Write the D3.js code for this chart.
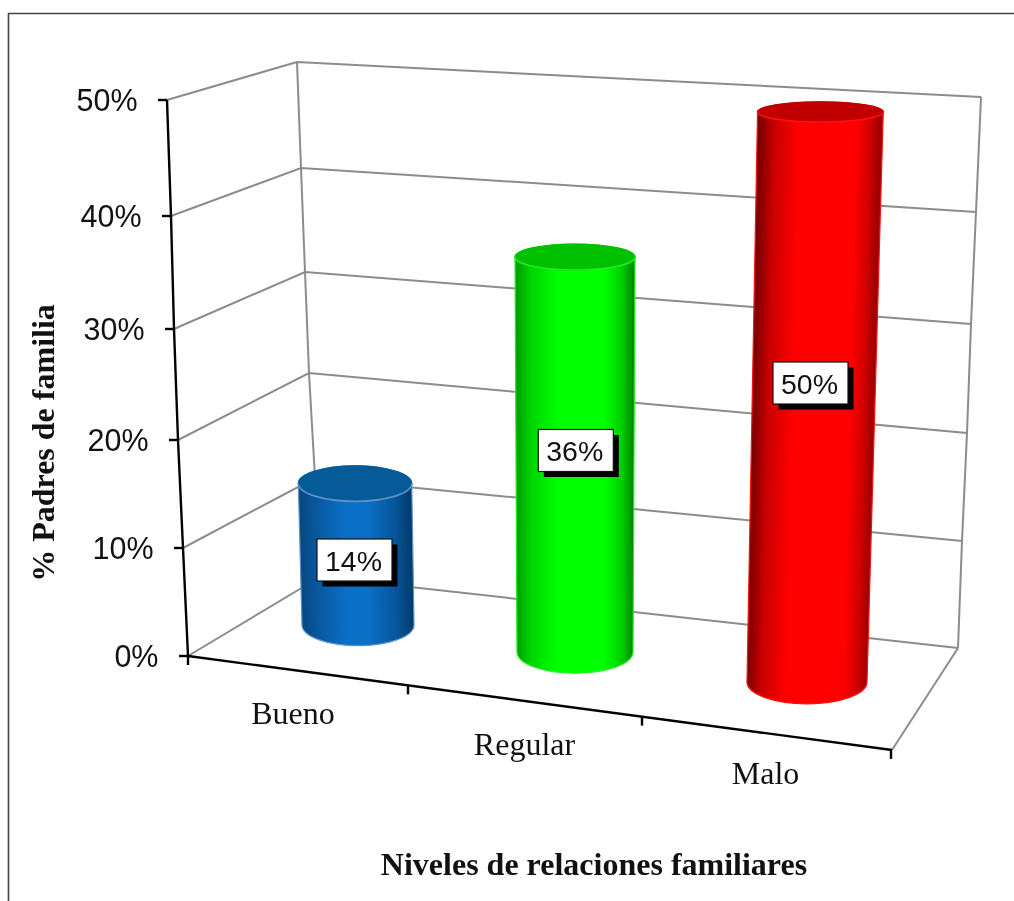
<!DOCTYPE html>
<html><head><meta charset="utf-8">
<script src="https://cdn.jsdelivr.net/npm/d3@7"></script>
<style>html,body{margin:0;background:#fff}svg{display:block;filter:blur(0.45px)}</style></head>
<body><div id="c"></div>
<script>
const categories = ["Bueno","Regular","Malo"];
const values = [14,36,50];
const tickValues = [0,10,20,30,40,50];
const barColors = [
  {stops:[[0,"#07477f"],[.12,"#08559a"],[.4,"#0a6fc6"],[.6,"#0a6fc6"],[.85,"#06559a"],[1,"#033a68"]],lid:"#055a98",rim:"#5c92cc"},
  {stops:[[0,"#00a000"],[.12,"#00d400"],[.35,"#00ff00"],[.75,"#00ff00"],[.9,"#00d000"],[1,"#008a00"]],lid:"#00c000",rim:"#20f020"},
  {stops:[[0,"#7a0000"],[.12,"#c80000"],[.33,"#ff0000"],[.8,"#ff0000"],[.92,"#d00000"],[1,"#9a0000"]],lid:"#c00000",rim:"#ff1010"}
];
const W=1014,H=901;
const svg=d3.select("#c").append("svg").attr("width",W).attr("height",H);
const defs=svg.append("defs");

// perspective scales: value -> pixel along each vertical edge of the box
const frontX=d3.scaleLinear().domain(tickValues).range([188,183,178,174,171,167]);
const frontY=d3.scaleLinear().domain(tickValues).range([656,548,440,329,216,100]);
const backLX=d3.scaleLinear().domain(tickValues).range([320,315,309,305,301,297]);
const backLY=d3.scaleLinear().domain(tickValues).range([577,478,373,272,168,62]);
const backRX=d3.scaleLinear().domain(tickValues).range([958,962,967,971,976,981]);
const backRY=d3.scaleLinear().domain(tickValues).range([648,541,433,324,212,97]);
// floor front edge
const floorX=d3.scaleLinear().domain([0,1,2,3]).range([188,408,642,891]);
const floorY=d3.scaleLinear().domain([188,892]).range([656,750]);
// bar placement per category index
const barBaseX=d3.scaleLinear().domain([0,1,2]).range([358,575,807]);
const barBaseY=d3.scaleLinear().domain([0,1,2]).range([625,652,682]);
const barUnit=d3.scaleLinear().domain([0,1,2]).range([10.1,10.97,11.4]);
const barLean=d3.scaleLinear().domain([0,1,2]).range([-0.021,0,0.0235]);
const barHalf=d3.scaleLinear().domain([0,1,2]).range([56,58,60]);
const ryScale=d3.scaleLinear().domain([100,700]).range([9.8,22.2]);
const labelX=d3.scaleLinear().domain([0,1,2]).range([354.5,575.8,810.5]);
const labelY=d3.scaleLinear().domain([0,1,2]).range([560,450.5,383]);
const catX=d3.scaleLinear().domain([0,1,2]).range([293,524.5,765.5]);
const catY=d3.scaleLinear().domain([0,1,2]).range([724,755,784]);

// frame (right side runs off the picture)
svg.append("path").attr("d",`M${W},13.5H8.5V${H}`).attr("fill","none").attr("stroke","#444").attr("stroke-width",1.6);

// walls
const grid=svg.append("g").attr("fill","none").attr("stroke","#8c8c8c").attr("stroke-width",2);
tickValues.forEach(v=>{
  grid.append("path").attr("d",d3.line()([[frontX(v),frontY(v)],[backLX(v),backLY(v)],[backRX(v),backRY(v)]]));
});
grid.append("path").attr("d",d3.line()(tickValues.map(v=>[backLX(v),backLY(v)])));
grid.append("path").attr("d",d3.line()(tickValues.map(v=>[backRX(v),backRY(v)])));
grid.append("path").attr("d",d3.line()([[backRX(0),backRY(0)],[892,750]]));

// axes
const ax=svg.append("g").attr("fill","none").attr("stroke","#000").attr("stroke-width",2.4);
ax.append("path").attr("d",d3.line()(tickValues.map(v=>[frontX(v),frontY(v)])));
ax.append("path").attr("d",d3.line()([[188,656],[892,750]]));
tickValues.forEach(v=>{
  ax.append("path").attr("d",d3.line()([[frontX(v)-9,frontY(v)],[frontX(v),frontY(v)]]));
});
floorX.domain().forEach(i=>{
  const x=floorX(i),y=floorY(x);
  ax.append("path").attr("d",d3.line()([[x,y],[x,y+9]]));
});
const tick=svg.append("g").attr("font-family","'Liberation Sans',Arial,sans-serif").attr("font-size",30.5).attr("fill","#111").attr("text-anchor","end");
tickValues.forEach(v=>{
  tick.append("text").attr("x",frontX(v)-29.5).attr("y",frontY(v)+11).text(v+"%");
});

// cylinders
categories.forEach((c,i)=>{
  const col=barColors[i], v=values[i];
  const bx=barBaseX(i),by=barBaseY(i);
  const h=v*barUnit(i), lean=barLean(i);
  const ty=by-h, tx=bx+lean*h;
  const hb=barHalf(i), ht=hb+0.005*h;
  const rb=ryScale(by), rt=ryScale(ty);
  const id="g"+i;
  const g=defs.append("linearGradient").attr("id",id).attr("gradientUnits","userSpaceOnUse")
    .attr("x1",bx-hb).attr("x2",bx+hb).attr("y1",by).attr("y2",by)
    .attr("gradientTransform",`matrix(1,0,${-lean},1,${lean*by},0)`);
  col.stops.forEach(s=>g.append("stop").attr("offset",s[0]).attr("stop-color",s[1]));
  const b=svg.append("g");
  const d=`M${tx-ht},${ty}L${bx-hb},${by}A${hb},${rb} 0 0 0 ${bx+hb},${by}L${tx+ht},${ty}A${ht},${rt} 0 0 0 ${tx-ht},${ty}Z`;
  b.append("path").attr("d",d).attr("fill",`url(#${id})`).attr("stroke",col.rim).attr("stroke-width",1.2);
  b.append("ellipse").attr("cx",tx).attr("cy",ty).attr("rx",ht).attr("ry",rt).attr("fill",col.lid).attr("stroke",col.lid).attr("stroke-width",1.2);
  b.append("path").attr("d",`M${tx-ht},${ty}A${ht},${rt} 0 0 0 ${tx+ht},${ty}`).attr("fill","none").attr("stroke",col.rim).attr("stroke-width",1.6);
  // data label
  const lx=labelX(i),ly=labelY(i),bw=75,bh=42;
  b.append("rect").attr("x",lx-bw/2+5.5).attr("y",ly-bh/2+5.5).attr("width",bw).attr("height",bh).attr("fill","#000");
  b.append("rect").attr("x",lx-bw/2).attr("y",ly-bh/2).attr("width",bw).attr("height",bh).attr("fill","#fff").attr("stroke","#111").attr("stroke-width",1.2);
  b.append("text").attr("x",lx-1).attr("y",ly+10.5).attr("text-anchor","middle")
    .attr("font-family","'Liberation Sans',Arial,sans-serif").attr("font-size",28.5).attr("fill","#111").text(v+"%");
  // category label
  svg.append("text").attr("x",catX(i)).attr("y",catY(i)).attr("text-anchor","middle")
    .attr("font-family","'Liberation Serif','Times New Roman',serif").attr("font-size",32).attr("fill","#111").text(c);
});

// axis titles
svg.append("text").attr("x",594).attr("y",875).attr("text-anchor","middle")
  .attr("font-family","'Liberation Serif','Times New Roman',serif").attr("font-weight","bold").attr("font-size",32).attr("fill","#111")
  .text("Niveles de relaciones familiares");
svg.append("text").attr("transform","translate(54,443) rotate(-90)").attr("text-anchor","middle")
  .attr("font-family","'Liberation Serif','Times New Roman',serif").attr("font-weight","bold").attr("font-size",32).attr("fill","#111")
  .text("% Padres de familia");
</script></body></html>
